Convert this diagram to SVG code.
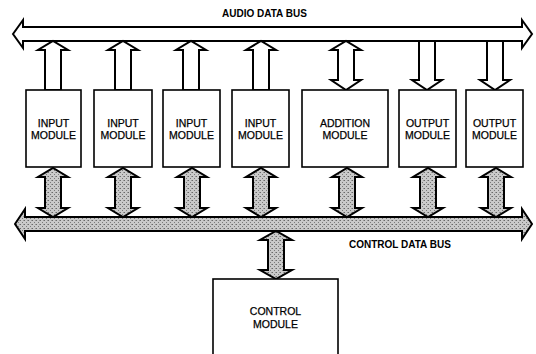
<svg xmlns="http://www.w3.org/2000/svg" width="536" height="354" viewBox="0 0 536 354">
<defs>
<pattern id="stip" width="4" height="4" patternUnits="userSpaceOnUse">
<rect width="4" height="4" fill="#cacaca"/>
<rect x="0" y="0" width="1" height="1" fill="#6a6a6a"/>
<rect x="2" y="2" width="1" height="1" fill="#7a7a7a"/>
<rect x="3" y="0" width="1" height="1" fill="#999"/>
</pattern>
</defs>
<style>
.box{fill:#fff;stroke:#000;stroke-width:1.6}
.wa{fill:#fff;stroke:#000;stroke-width:2;stroke-linejoin:miter}
.ga{fill:url(#stip);stroke:#000;stroke-width:2;stroke-linejoin:miter}
.t{font-family:"Liberation Sans",Arial,sans-serif;font-size:10.5px;fill:#000;stroke:#000;stroke-width:0.25;text-anchor:middle}
.lb{font-family:"Liberation Sans",Arial,sans-serif;font-size:10px;font-weight:bold;fill:#000}
</style>
<rect width="536" height="354" fill="#fff"/>
<g id="connectors">
<polygon id="audio-bus" class="wa" points="13,34 23,20 23,27 522,27 522,20 532,34 522,48 522,41 23,41 23,48"/>
<polygon id="control-bus" class="ga" points="15,224 25,209 25,217 522,217 522,209 532,224 522,239 522,231 25,231 25,239"/>
<polygon class="wa" points="45,90 45,50 38,50 53,41 68,50 61,50 61,90"/>
<polygon class="wa" points="115,90 115,50 108,50 123,41 138,50 131,50 131,90"/>
<polygon class="wa" points="183,90 183,50 176,50 191,41 206,50 199,50 199,90"/>
<polygon class="wa" points="253,90 253,50 246,50 261,41 276,50 269,50 269,90"/>
<polygon class="wa" points="338,80 338,50 331,50 346,41 361,50 354,50 354,80 361,80 346,90 331,80"/>
<polygon class="wa" points="419,41 419,80 412,80 427,90 442,80 435,80 435,41"/>
<polygon class="wa" points="487,41 487,80 480,80 495,90 510,80 503,80 503,41"/>
<polygon class="ga" points="45,208 45,177 38,177 53,168 68,177 61,177 61,208 68,208 53,217 38,208"/>
<polygon class="ga" points="115,208 115,177 108,177 123,168 138,177 131,177 131,208 138,208 123,217 108,208"/>
<polygon class="ga" points="184,208 184,177 177,177 192,168 207,177 200,177 200,208 207,208 192,217 177,208"/>
<polygon class="ga" points="253,208 253,177 246,177 261,168 276,177 269,177 269,208 276,208 261,217 246,208"/>
<polygon class="ga" points="339,208 339,177 332,177 347,168 362,177 355,177 355,208 362,208 347,217 332,208"/>
<polygon class="ga" points="420,208 420,177 413,177 428,168 443,177 436,177 436,208 443,208 428,217 413,208"/>
<polygon class="ga" points="488,208 488,177 481,177 496,168 511,177 504,177 504,208 511,208 496,217 481,208"/>
<polygon class="ga" points="268,270 268,240 260,240 276,231 292,240 284,240 284,270 292,270 276,279 260,270"/>
</g>
<text class="lb" x="222" y="17">AUDIO DATA BUS</text>
<text class="lb" x="349" y="248">CONTROL DATA BUS</text>
<g id="input1"><rect class="box" x="26" y="90" width="55" height="77"/><text class="t" x="53.5" y="127">INPUT</text><text class="t" x="53.5" y="139">MODULE</text></g>
<g id="input2"><rect class="box" x="94" y="90" width="58" height="77"/><text class="t" x="123" y="127">INPUT</text><text class="t" x="123" y="139">MODULE</text></g>
<g id="input3"><rect class="box" x="163" y="90" width="57" height="77"/><text class="t" x="191.5" y="127">INPUT</text><text class="t" x="191.5" y="139">MODULE</text></g>
<g id="input4"><rect class="box" x="232" y="90" width="57" height="77"/><text class="t" x="260.5" y="127">INPUT</text><text class="t" x="260.5" y="139">MODULE</text></g>
<g id="addition"><rect class="box" x="302" y="90" width="86" height="77"/><text class="t" x="345" y="127">ADDITION</text><text class="t" x="345" y="139">MODULE</text></g>
<g id="output1"><rect class="box" x="399" y="90" width="57" height="77"/><text class="t" x="427.5" y="127">OUTPUT</text><text class="t" x="427.5" y="139">MODULE</text></g>
<g id="output2"><rect class="box" x="466" y="90" width="57" height="77"/><text class="t" x="494.5" y="127">OUTPUT</text><text class="t" x="494.5" y="139">MODULE</text></g>
<g id="control"><rect class="box" x="213" y="279" width="125" height="90"/><text class="t" x="275.5" y="315">CONTROL</text><text class="t" x="275.5" y="328">MODULE</text></g>
</svg>
